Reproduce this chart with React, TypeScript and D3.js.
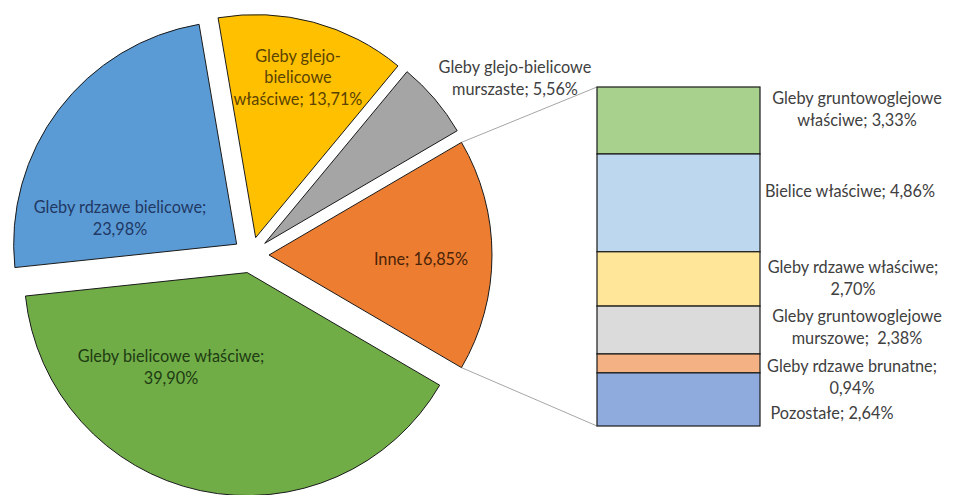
import React from "react";
import * as d3 from "d3";

const W = 961;
const H = 495;

// Pie (main) data, in clockwise drawing order starting with "Inne"
const pieNames = [
  "Inne",
  "Gleby bielicowe właściwe",
  "Gleby rdzawe bielicowe",
  "Gleby glejo-bielicowe właściwe",
  "Gleby glejo-bielicowe murszaste",
];
const pieValues = [16.85, 39.9, 23.98, 13.71, 5.56];
const pieColors = ["#ED7D31", "#70AD47", "#5B9BD5", "#FFC000", "#A5A5A5"];
const pieLabelLines = [
  ["Inne; 16,85%"],
  ["Gleby bielicowe właściwe;", "39,90%"],
  ["Gleby rdzawe bielicowe;", "23,98%"],
  ["Gleby glejo-", "bielicowe", "właściwe; 13,71%"],
  ["Gleby glejo-bielicowe", "murszaste; 5,56%"],
];
const pieLabelColors = ["#4a2408", "#1e3b12", "#1f3864", "#5a4300", "#404040"];
// label anchor positions (centre of text block), relative to pie centre
const pieLabelPos: [number, number][] = [
  [170, 3],
  [-80, 111],
  [-131, -38],
  [47, -179],
  [264, -178],
];

// Bar (secondary) data, top to bottom
const barNames = [
  "Gleby gruntowoglejowe właściwe",
  "Bielice właściwe",
  "Gleby rdzawe właściwe",
  "Gleby gruntowoglejowe murszowe",
  "Gleby rdzawe brunatne",
  "Pozostałe",
];
const barValues = [3.33, 4.86, 2.7, 2.38, 0.94, 2.64];
const barColors = ["#A9D18E", "#BDD7EE", "#FFE699", "#DBDBDB", "#F4B183", "#8FAADC"];
const barLabelLines = [
  ["Gleby gruntowoglejowe", "właściwe; 3,33%"],
  ["Bielice właściwe; 4,86%"],
  ["Gleby rdzawe właściwe;", "2,70%"],
  ["Gleby gruntowoglejowe", "murszowe;  2,38%"],
  ["Gleby rdzawe brunatne;", "0,94%"],
  ["Pozostałe; 2,64%"],
];
const barLabelPos: [number, number][] = [
  [857, 108],
  [850, 190],
  [853, 277],
  [857, 326],
  [852, 376],
  [832, 412],
];

const FONT = "Lato, 'Open Sans', sans-serif";
const FS = 16.3;
const LH = 21.5;

export default function App() {
  const cx = 251;
  const cy = 255;
  const R = 223;
  const explode = 18;

  const innePart = pieValues[0] / d3.sum(pieValues);
  const start = Math.PI / 2 - innePart * Math.PI;
  const pie = d3
    .pie<number>()
    .sort(null)
    .value((d) => d)
    .startAngle(start)
    .endAngle(start + 2 * Math.PI);
  const arcs = pie(pieValues);
  const arcGen = d3.arc<d3.PieArcDatum<number>>().innerRadius(0).outerRadius(R);

  const offs = arcs.map((a) => {
    const m = (a.startAngle + a.endAngle) / 2;
    return [Math.sin(m) * explode, -Math.cos(m) * explode];
  });

  // Bar
  const barX0 = 597;
  const barX1 = 760;
  const barTop = 87;
  const barBottom = 426;
  const cum = [0];
  barValues.forEach((v, i) => cum.push(cum[i] + v));
  const y = d3.scaleLinear().domain([0, d3.sum(barValues)]).range([barTop, barBottom]);

  // connector from Inne slice corners
  const inne = arcs[0];
  const io = offs[0];
  const topCorner = [
    cx + io[0] + Math.sin(inne.startAngle) * R,
    cy + io[1] - Math.cos(inne.startAngle) * R,
  ];
  const botCorner = [
    cx + io[0] + Math.sin(inne.endAngle) * R,
    cy + io[1] - Math.cos(inne.endAngle) * R,
  ];

  const renderLines = (lines: string[], x: number, yc: number, color: string, key: string) => {
    const y0 = yc - ((lines.length - 1) * LH) / 2;
    return (
      <text key={key} x={x} y={y0} fill={color} fontFamily={FONT} fontSize={FS} textAnchor="middle" dominantBaseline="central">
        {lines.map((l, i) => (
          <tspan key={i} x={x} y={y0 + i * LH} style={{ whiteSpace: "pre" }}>
            {l}
          </tspan>
        ))}
      </text>
    );
  };

  return (
    <svg width={W} height={H} style={{ position: "absolute", left: 0, top: 0, background: "#fff" }}>
      <rect x={0} y={0} width={W} height={H} fill="#fff" />
      {/* connector lines */}
      <line x1={topCorner[0]} y1={topCorner[1]} x2={barX0} y2={barTop} stroke="#A6A6A6" strokeWidth={1} />
      <line x1={botCorner[0]} y1={botCorner[1]} x2={barX0} y2={barBottom} stroke="#A6A6A6" strokeWidth={1} />
      {arcs.map((a, i) => (
        <path
          key={pieNames[i]}
          d={arcGen(a) || ""}
          transform={`translate(${cx + offs[i][0]},${cy + offs[i][1]})`}
          fill={pieColors[i]}
          stroke="#1a1a1a"
          strokeWidth={1}
        />
      ))}
      {barValues.map((v, i) => (
        <rect
          key={barNames[i]}
          x={barX0}
          y={y(cum[i])}
          width={barX1 - barX0}
          height={y(cum[i + 1]) - y(cum[i])}
          fill={barColors[i]}
          stroke="#1a1a1a"
          strokeWidth={1.2}
        />
      ))}
      {pieLabelLines.map((lines, i) =>
        renderLines(lines, cx + pieLabelPos[i][0], cy + pieLabelPos[i][1], pieLabelColors[i], "p" + i)
      )}
      {barLabelLines.map((lines, i) => renderLines(lines, barLabelPos[i][0], barLabelPos[i][1], "#404040", "b" + i))}
    </svg>
  );
}
